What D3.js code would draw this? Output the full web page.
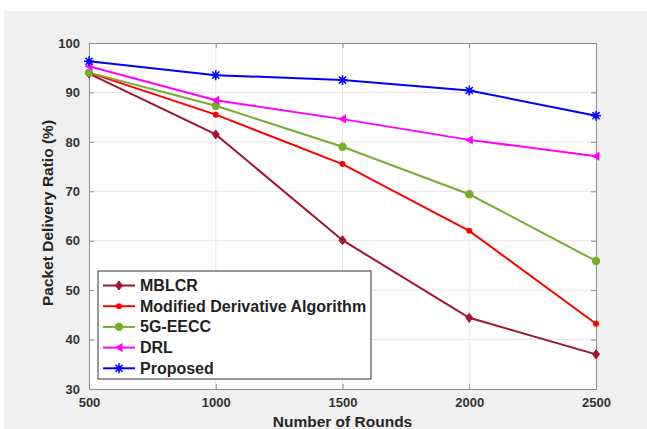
<!DOCTYPE html>
<html>
  <head>
    <meta charset="utf-8" />
    <script src="https://cdn.jsdelivr.net/npm/d3@7"></script>
    <style>
      body { margin: 0; background: #ffffff; }
      text { font-family: "Liberation Sans", Arial, sans-serif; font-weight: bold; }
      .grid line { stroke: #e6e6e6; }
      .tick text { fill: #333333; font-size: 13px; }
    </style>
  </head>
  <body>
    <div id="chart"></div>
    <script type="text/javascript">
      var w = 647, h = 429;

      var rounds = [500, 1000, 1500, 2000, 2500];
      var xTicks = [500, 1000, 1500, 2000, 2500];
      var yTicks = [30, 40, 50, 60, 70, 80, 90, 100];

      var mblcr    = [93.8, 81.5, 60.1, 44.4, 37.0];
      var modified = [94.0, 85.5, 75.5, 62.0, 43.2];
      var eecc     = [94.0, 87.3, 79.0, 69.4, 55.9];
      var drl      = [95.3, 88.4, 84.6, 80.4, 77.1];
      var proposed = [96.3, 93.5, 92.5, 90.4, 85.3];

      var series = [
        { name: "MBLCR", values: mblcr, color: "#a2142f", marker: "diamond" },
        { name: "Modified Derivative Algorithm", values: modified, color: "#ff0000", marker: "dot" },
        { name: "5G-EECC", values: eecc, color: "#77ac30", marker: "circle" },
        { name: "DRL", values: drl, color: "#ff00ff", marker: "triangle" },
        { name: "Proposed", values: proposed, color: "#0000ff", marker: "star" }
      ];

      var m = { left: 89, right: 51, top: 43, bottom: 40 };
      var pw = w - m.left - m.right, ph = h - m.top - m.bottom;

      var svg = d3.select("#chart").append("svg")
        .attr("width", w)
        .attr("height", h);

      svg.append("rect")
        .attr("x", 4).attr("y", 11)
        .attr("width", w - 4).attr("height", h - 11)
        .attr("fill", "#f0f0f0");

      var x = d3.scaleLinear().domain([500, 2500]).range([0, pw]);
      var y = d3.scaleLinear().domain([30, 100]).range([ph, 0]);

      var g = svg.append("g")
        .attr("transform", "translate(" + m.left + "," + m.top + ")");

      g.append("rect")
        .attr("width", pw).attr("height", ph)
        .attr("fill", "#ffffff");

      g.append("g").attr("class", "grid")
        .selectAll("line.v").data(xTicks.slice(1, -1)).enter()
        .append("line")
        .attr("x1", d => x(d)).attr("x2", d => x(d))
        .attr("y1", 0).attr("y2", ph);

      g.append("g").attr("class", "grid")
        .selectAll("line.h").data(yTicks.slice(1, -1)).enter()
        .append("line")
        .attr("x1", 0).attr("x2", pw)
        .attr("y1", d => y(d)).attr("y2", d => y(d));

      // axes (box with inward ticks on all sides)
      g.append("g")
        .attr("transform", "translate(0," + ph + ")")
        .call(d3.axisBottom(x).tickValues(xTicks).tickSize(-5).tickPadding(9).tickFormat(d3.format("d")));
      g.append("g")
        .call(d3.axisLeft(y).tickValues(yTicks).tickSize(-5).tickPadding(9));
      g.append("g")
        .call(d3.axisTop(x).tickValues(xTicks).tickSize(-5).tickFormat(""));
      g.append("g")
        .attr("transform", "translate(" + pw + ",0)")
        .call(d3.axisRight(y).tickValues(yTicks).tickSize(-5).tickFormat(""));
      g.selectAll(".domain, .tick line").attr("stroke", "#8c8c8c");

      var line = d3.line()
        .x((d, i) => x(rounds[i]))
        .y(d => y(d));

      function drawMarker(sel, type, color, cx, cy) {
        if (type === "diamond") {
          sel.append("path")
            .attr("d", "M0,-4.5L3.5,0L0,4.5L-3.5,0Z")
            .attr("transform", "translate(" + cx + "," + cy + ")")
            .attr("fill", color).attr("stroke", color);
        } else if (type === "dot") {
          sel.append("circle").attr("cx", cx).attr("cy", cy).attr("r", 3)
            .attr("fill", color);
        } else if (type === "circle") {
          sel.append("circle").attr("cx", cx).attr("cy", cy).attr("r", 4.2)
            .attr("fill", color);
        } else if (type === "triangle") {
          sel.append("path")
            .attr("d", "M-4.5,0L3.5,-4.5L3.5,4.5Z")
            .attr("transform", "translate(" + cx + "," + cy + ")")
            .attr("fill", color);
        } else if (type === "star") {
          var p = "";
          [0, 45, 90, 135].forEach(function(a) {
            var r = a * Math.PI / 180, dx = 5 * Math.cos(r), dy = 5 * Math.sin(r);
            p += "M" + (-dx) + "," + (-dy) + "L" + dx + "," + dy;
          });
          sel.append("path")
            .attr("d", p)
            .attr("transform", "translate(" + cx + "," + cy + ")")
            .attr("stroke", color).attr("stroke-width", 1.5).attr("fill", "none");
          sel.append("circle").attr("cx", cx).attr("cy", cy).attr("r", 2.5)
            .attr("fill", color);
        }
      }

      series.forEach(function(s) {
        var sg = g.append("g");
        sg.append("path")
          .datum(s.values)
          .attr("d", line)
          .attr("fill", "none")
          .attr("stroke", s.color)
          .attr("stroke-width", 2);
        s.values.forEach(function(v, i) {
          drawMarker(sg, s.marker, s.color, x(rounds[i]), y(v));
        });
      });

      // legend
      var lg = svg.append("g").attr("transform", "translate(98,271)");
      lg.append("rect")
        .attr("width", 273).attr("height", 108)
        .attr("fill", "#ffffff").attr("stroke", "#333333").attr("stroke-width", 1);
      series.forEach(function(s, i) {
        var ly = 14.5 + i * 20.7;
        lg.append("line")
          .attr("x1", 5).attr("x2", 37).attr("y1", ly).attr("y2", ly)
          .attr("stroke", s.color).attr("stroke-width", 2);
        drawMarker(lg, s.marker, s.color, 21, ly);
        lg.append("text")
          .attr("x", 42).attr("y", ly + 5.5)
          .attr("font-size", "16px").attr("fill", "#1f1f1f")
          .text(s.name);
      });

      // axis titles
      svg.append("text")
        .attr("x", m.left + pw / 2).attr("y", 427)
        .attr("text-anchor", "middle")
        .attr("font-size", "15.5px").attr("fill", "#262626")
        .text("Number of Rounds");
      svg.append("text")
        .attr("transform", "translate(53," + (m.top + ph / 2 - 3) + ") rotate(-90)")
        .attr("text-anchor", "middle")
        .attr("font-size", "15.5px").attr("fill", "#262626")
        .text("Packet Delivery Ratio (%)");
    </script>
  </body>
</html>
